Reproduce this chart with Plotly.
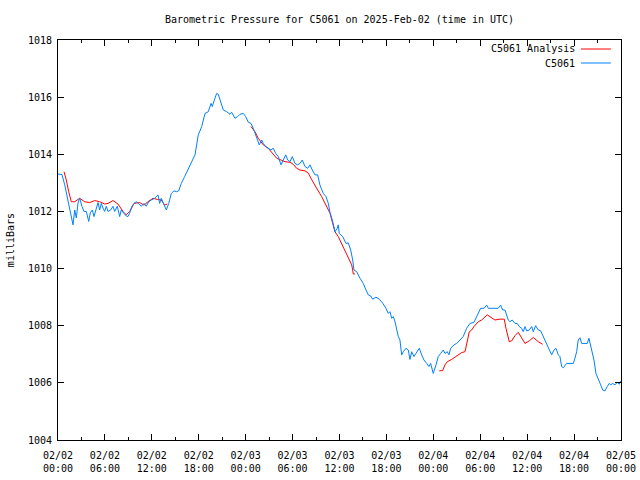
import datetime as dt
import plotly.graph_objects as go

# ---------------- data ----------------
start = dt.datetime(2025, 2, 2, 0, 0)

# C5061 observations: hours since 2025-02-02 00:00 UTC, pressure (mb)
obs_hours = [0.00, 0.51, 0.86, 1.28, 1.62, 1.92, 2.14, 2.34, 2.56, 2.77, 3.07, 3.32, 3.62, 3.93, 4.13, 4.39,
             4.60, 4.90, 5.12, 5.33, 5.54, 5.75, 5.97, 6.18, 6.39, 6.74, 7.03, 7.25, 7.58, 7.89, 8.09, 8.40,
             8.73, 8.95, 9.17, 9.46, 9.72, 10.01, 10.32, 10.65, 11.00, 11.29, 11.60, 11.93, 12.37, 12.79,
             13.00, 13.21, 13.55, 13.85, 14.16, 14.49, 14.83, 15.13, 15.43, 15.77, 16.20, 16.62, 17.05,
             17.52, 17.94, 18.38, 18.80, 19.22, 19.57, 19.73, 19.99, 20.29, 20.50, 20.84, 21.14, 21.57,
             22.00, 22.21, 22.63, 22.98, 23.27, 23.70, 24.00, 24.34, 24.68, 24.97, 25.28, 25.54, 25.74,
             26.05, 26.25, 26.56, 26.89, 27.24, 27.53, 27.84, 28.17, 28.52, 28.81, 29.12, 29.37, 29.67,
             29.96, 30.31, 30.65, 30.95, 31.24, 31.59, 31.93, 32.23, 32.52, 32.86, 33.21, 33.50, 33.93,
             34.27, 34.57, 34.78, 35.13, 35.42, 35.72, 35.84, 35.97, 36.41, 36.83, 37.12, 37.43, 37.69,
             37.85, 38.20, 38.62, 39.04, 39.39, 39.68, 39.99, 40.24, 40.66, 41.09, 41.52, 41.94, 42.24,
             42.46, 42.67, 42.88, 43.09, 43.31, 43.52, 43.73, 43.95, 44.16, 44.50, 44.80, 45.01, 45.23,
             45.52, 45.78, 46.20, 46.51, 46.80, 47.15, 47.44, 47.66, 47.99, 48.34, 48.63, 48.94, 49.27,
             49.49, 49.78, 50.00, 50.22, 50.64, 50.98, 51.41, 51.82, 52.26, 52.69, 53.20, 53.45, 53.75,
             54.05, 54.48, 54.82, 55.03, 55.66, 56.30, 56.61, 56.87, 57.16, 57.38, 57.58, 57.80, 58.09,
             58.44, 58.73, 58.99, 59.30, 59.50, 59.72, 59.94, 60.27, 60.58, 60.78, 61.09, 61.42, 61.73,
             61.98, 62.28, 62.57, 62.83, 63.13, 63.43, 63.68, 63.98, 64.19, 64.41, 64.62, 65.05, 65.47,
             65.90, 66.11, 66.33, 66.53, 66.75, 66.97, 67.39, 67.69, 67.90, 68.12, 68.38, 68.54, 68.80,
             69.09, 69.40, 69.66, 69.95, 70.24, 70.50, 70.68, 70.93, 71.23, 71.52, 71.78, 71.96]
obs_mb = [1013.31, 1013.29, 1012.93, 1012.34, 1012.00, 1011.53, 1012.05, 1011.77, 1012.29, 1012.47, 1012.17,
          1012.00, 1012.00, 1011.65, 1011.95, 1012.05, 1011.82, 1012.12, 1012.31, 1012.05, 1012.28, 1012.12,
          1012.00, 1012.18, 1012.00, 1012.05, 1012.18, 1012.00, 1012.18, 1011.82, 1012.05, 1011.94, 1011.84,
          1011.82, 1011.94, 1012.18, 1012.28, 1012.34, 1012.28, 1012.18, 1012.28, 1012.18, 1012.34, 1012.40,
          1012.46, 1012.58, 1012.28, 1012.46, 1012.22, 1012.05, 1012.28, 1012.63, 1012.72, 1012.69, 1012.72,
          1012.98, 1013.22, 1013.45, 1013.74, 1013.98, 1014.68, 1014.97, 1015.43, 1015.49, 1015.78, 1015.67,
          1015.90, 1016.13, 1016.10, 1015.84, 1015.55, 1015.49, 1015.40, 1015.47, 1015.26, 1015.32, 1015.40,
          1015.43, 1015.32, 1015.12, 1015.08, 1014.91, 1014.68, 1014.50, 1014.33, 1014.50, 1014.38, 1014.27,
          1014.21, 1014.15, 1014.21, 1014.03, 1013.92, 1013.63, 1013.80, 1013.98, 1013.80, 1013.74, 1013.92,
          1013.68, 1013.63, 1013.68, 1013.80, 1013.57, 1013.51, 1013.63, 1013.45, 1013.28, 1013.28, 1012.92,
          1012.63, 1012.52, 1012.28, 1011.97, 1011.65, 1011.29, 1011.41, 1011.53, 1011.23, 1011.12, 1010.88,
          1010.90, 1010.65, 1010.30, 1009.95, 1009.89, 1009.66, 1009.48, 1009.25, 1009.08, 1009.04, 1008.93,
          1009.00, 1008.93, 1008.79, 1008.61, 1008.43, 1008.49, 1008.26, 1008.32, 1008.15, 1007.85, 1007.62,
          1007.50, 1006.98, 1007.09, 1007.21, 1007.15, 1006.82, 1007.09, 1006.92, 1007.03, 1007.21, 1006.98,
          1006.80, 1006.68, 1006.57, 1006.68, 1006.33, 1006.63, 1006.92, 1007.03, 1007.15, 1007.03, 1007.09,
          1006.98, 1007.21, 1007.33, 1007.38, 1007.50, 1007.62, 1007.91, 1008.08, 1008.12, 1008.26, 1008.43,
          1008.61, 1008.61, 1008.72, 1008.61, 1008.61, 1008.61, 1008.72, 1008.55, 1008.55, 1008.38, 1008.20,
          1008.14, 1008.20, 1008.08, 1008.08, 1007.97, 1007.91, 1007.79, 1007.97, 1007.82, 1007.85, 1007.97,
          1007.79, 1008.00, 1007.85, 1007.82, 1007.68, 1007.50, 1007.35, 1007.15, 1006.98, 1007.15, 1007.21,
          1006.98, 1006.92, 1006.57, 1006.53, 1006.68, 1006.68, 1006.68, 1006.86, 1007.09, 1007.50, 1007.58,
          1007.38, 1007.38, 1007.38, 1007.56, 1007.27, 1007.03, 1006.80, 1006.33, 1006.10, 1005.93, 1005.75,
          1005.72, 1005.87, 1005.98, 1005.93, 1005.98, 1005.93, 1006.02, 1005.95, 1006.07]

# C5061 Analysis: three segments separated by None
ana_hours = [0.77, 1.06, 1.37, 1.70, 2.14, 2.77, 3.41, 4.05, 4.69, 5.33, 5.97, 6.39, 7.03, 7.67, 8.31, 8.73,
             9.17, 9.72, 10.45, 11.00, 11.51, 12.15, 12.70, 13.21, 13.64, 13.98, None,
             24.68, 25.19, 25.61, 26.25, 26.89, 27.40, 27.97, 28.52, 29.03, 29.67, 30.09, 30.52, 30.95,
             31.59, 32.01, 32.35, 32.77, 33.21, 33.72, 34.14, 34.57, 34.78, 35.13, 35.42, 35.84, 36.28,
             36.70, 37.12, 37.56, 37.69, 37.76, 37.98, None,
             48.76, 49.19, 49.49, 49.78, 50.35, 50.98, 51.62, 52.05, 52.35, 52.60, 52.90, 53.20, 53.75,
             54.18, 54.90, 55.46, 55.88, 56.52, 57.07, 57.29, 57.71, 58.02, 58.44, 58.86, 59.30, 59.72,
             60.27, 60.78, 61.42, 61.98]
ana_mb = [1013.39, 1013.10, 1012.69, 1012.34, 1012.34, 1012.46, 1012.34, 1012.31, 1012.38, 1012.34, 1012.26,
          1012.28, 1012.38, 1012.26, 1012.00, 1011.88, 1012.00, 1012.28, 1012.31, 1012.22, 1012.34, 1012.46,
          1012.42, 1012.40, 1012.22, 1012.26, None,
          1014.97, 1014.79, 1014.56, 1014.33, 1014.21, 1014.03, 1013.86, 1013.80, 1013.74, 1013.72, 1013.65,
          1013.51, 1013.45, 1013.42, 1013.34, 1013.16, 1012.98, 1012.75, 1012.52, 1012.28, 1012.05, 1011.94,
          1011.58, 1011.29, 1011.12, 1010.88, 1010.65, 1010.42, 1010.13, 1009.95, 1009.81, 1009.81, None,
          1006.42, 1006.43, 1006.63, 1006.74, 1006.82, 1006.94, 1007.06, 1007.09, 1007.50, 1007.79, 1007.85,
          1007.97, 1008.14, 1008.20, 1008.38, 1008.26, 1008.20, 1008.23, 1008.23, 1007.91, 1007.44, 1007.47,
          1007.65, 1007.77, 1007.58, 1007.38, 1007.47, 1007.59, 1007.44, 1007.35]

tick_hours = [0, 6, 12, 18, 24, 30, 36, 42, 48, 54, 60, 66, 72]
tick_labels = ["02/02<br>00:00", "02/02<br>06:00", "02/02<br>12:00", "02/02<br>18:00",
               "02/03<br>00:00", "02/03<br>06:00", "02/03<br>12:00", "02/03<br>18:00",
               "02/04<br>00:00", "02/04<br>06:00", "02/04<br>12:00", "02/04<br>18:00",
               "02/05<br>00:00"]
y_ticks = [1004, 1006, 1008, 1010, 1012, 1014, 1016, 1018]

series_names = ["C5061 Analysis", "C5061"]
series_colors = ["#ff0000", "#0080ff"]

# ---------------- figure ----------------
def to_time(hs):
    return [None if h is None else start + dt.timedelta(hours=h) for h in hs]

FONT = "DejaVu Sans Mono"

fig = go.Figure()
fig.add_trace(go.Scatter(x=to_time(ana_hours), y=ana_mb, mode="lines", name=series_names[0],
                         line=dict(color=series_colors[0], width=1), connectgaps=False))
fig.add_trace(go.Scatter(x=to_time(obs_hours), y=obs_mb, mode="lines", name=series_names[1],
                         line=dict(color=series_colors[1], width=1)))

axis_common = dict(showline=True, linecolor="black", linewidth=1, mirror="ticks",
                   ticks="inside", ticklen=6, tickcolor="black", showgrid=False, zeroline=False,
                   automargin=False,
                   tickfont=dict(family=FONT, size=10, color="black"))

fig.update_xaxes(type="date", range=[start, start + dt.timedelta(hours=72)],
                 tickvals=to_time(tick_hours), ticktext=tick_labels, ticklabelstandoff=6,
                 minor=dict(ticks="inside", ticklen=3, tickcolor="black",
                            tickvals=to_time([h + 3 for h in tick_hours[:-1]])),
                 **axis_common)
fig.update_yaxes(range=[1004, 1018], tickvals=y_ticks, ticktext=[str(v) for v in y_ticks],
                 ticklabelstandoff=3, **axis_common)

# y-axis label
fig.add_annotation(x=-0.085, y=0.5, xref="paper", yref="paper", text="milliBars", textangle=-90,
                   showarrow=False, xanchor="center", yanchor="middle",
                   font=dict(family=FONT, size=10, color="black"))

# gnuplot-style key: text then line sample
key_rows = [0.9775, 0.9425]
for name, color, yy in zip(series_names, series_colors, key_rows):
    fig.add_annotation(x=0.921, y=yy, xref="paper", yref="paper", text=name, showarrow=False,
                       xanchor="right", yanchor="middle", font=dict(family=FONT, size=10, color="black"))
    fig.add_shape(type="line", xref="paper", yref="paper", x0=0.929, x1=0.982, y0=yy, y1=yy,
                  line=dict(color=color, width=1))

fig.update_layout(
    width=640, height=480,
    margin=dict(l=58, r=19, t=40, b=40),
    paper_bgcolor="white", plot_bgcolor="white",
    showlegend=False,
    title=dict(text="Barometric Pressure for C5061 on 2025-Feb-02 (time in UTC)",
               x=339.5 / 640, xanchor="center", y=1 - 19 / 480, yanchor="middle",
               font=dict(family=FONT, size=10, color="black")),
)

fig.write_html("out.html", config={"displayModeBar": False},
               post_script="document.body.style.margin='0';document.body.style.padding='0';")
